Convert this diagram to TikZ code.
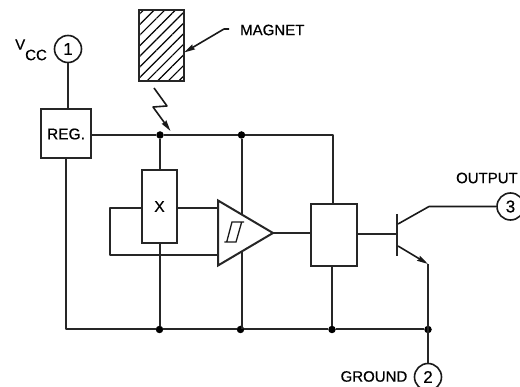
\documentclass[tikz,border=0pt]{standalone}
\usepackage{fontspec}
\setmainfont[FakeBold=0.6]{Liberation Sans}
\usetikzlibrary{arrows.meta,patterns.meta}
\tikzset{
  wire/.style={line width=2pt,line join=round,black!85},
  blockbox/.style={draw=black!85,line width=2pt,fill=white,inner sep=0pt,minimum width=0pt},
  pin/.style={circle,draw=black!90,line width=1.6pt,fill=white,minimum size=27pt,inner sep=0pt,font=\fontsize{17}{17}\selectfont},
  junction/.style={circle,fill=black,inner sep=0pt,minimum size=7.5pt},
  lbl/.style={inner sep=0pt,font=\fontsize{15}{15}\selectfont},
  tip/.style={-{Stealth[length=11pt,width=5.5pt,inset=1pt]}},
  thinwire/.style={line width=1.6pt,line join=round,black!90}
}
\begin{document}
\begin{tikzpicture}[x=1pt,y=-1pt]
\useasboundingbox (0,0) rectangle (520,387);
% blocks
\node[pin] (p1) at (68,49) {1};
\node[pin] (p2) at (428,377) {2};
\node[pin] (p3) at (510.5,206.5) {3};
\node[blockbox,minimum width=50pt,minimum height=49pt,font=\fontsize{15.5}{15}\selectfont] (reg) at (66,134) {REG.};
\node[blockbox,minimum width=35pt,minimum height=73pt,font=\fontsize{15.5}{15}\selectfont] (hall) at (159.5,206.5) {X};
\node[blockbox,minimum width=46.5pt,minimum height=62pt] (logic) at (334,235) {};
\node[draw=black!85,line width=2pt,minimum width=45pt,minimum height=71pt,inner sep=0pt,pattern={Lines[angle=45,distance=7.5pt,line width=1.2pt]}] (magnet) at (161,45.5) {};
% junctions
\node[junction] (t1) at (160,135) {};
\node[junction] (t2) at (241.5,135) {};
\node[junction] (b1) at (159.5,329.5) {};
\node[junction] (b2) at (240.5,329.5) {};
\node[junction] (b3) at (332,329.5) {};
\node[junction] (b4) at (428,329.5) {};
% helper points
\coordinate (tr) at (333,135);
\coordinate (bl) at (66,329.5);
\coordinate (hl) at (142,208.5);
\coordinate (hr) at (177,208.5);
\coordinate (lt) at (110,208.5);
\coordinate (lb) at (110,255.5);
\coordinate (ca) at (218,208.5);
\coordinate (cb) at (218,255.5);
\coordinate (co) at (273,233);
\coordinate (qb) at (397,234);
\coordinate (qc) at (398,224);
\coordinate (qk) at (429,206.5);
\coordinate (qe) at (398,246);
\coordinate (qj) at (428,264);
% wires
\draw[wire] (p1) -- (p1 |- reg.north);
\draw[wire] (reg.east |- t1) -- (t1) -- (t2) -- (tr) -- (logic.north -| tr);
\draw[wire] (t1) -- (t1 |- hall.north);
\draw[wire] (reg.south) -- (bl) -- (b1) -- (b2) -- (b3) -- (b4);
\draw[wire] (b1) -- (b1 |- hall.south);
\draw[wire] (hl) -- (lt) -- (lb) -- (cb);
\draw[wire] (hr) -- (ca);
\draw[wire] (t2) -- (t2 |- b2);
\draw[wire] (b3) -- (b3 |- logic.south);
\draw[blockbox] (218,200.5) -- (co) -- (218,265.5) -- cycle;
\draw[line width=1.3pt,black!90] (244,222) -- (232,222) -- (226.7,242) (224.3,242) -- (236,242) -- (241.7,222);
\draw[wire] (co) -- (logic.west |- co);
\draw[wire] (logic.east |- qb) -- (qb);
\draw[wire] (397,214) -- (397,256);
\draw[thinwire] (qc) -- (qk) -- (p3);
\draw[thinwire,tip] (qe) -- (qj);
\draw[wire] (qj) -- (qj |- b4) -- (p2);
% magnet leader and flux
\coordinate (ml) at (229,29);
\coordinate (mk) at (224,29);
\draw[thinwire,tip] (ml) -- (mk) -- (magnet.east |- 0,52.5);
\coordinate (f1) at (154,88);
\coordinate (f2) at (167,106);
\coordinate (f3) at (153,107);
\coordinate (f4) at (170.5,131);
\draw[thinwire,tip] (f1) -- (f2) -- (f3) -- (f4);
% labels
\node[lbl,anchor=west] (magtxt) at (240,30) {MAGNET};
\node[lbl,anchor=west] (vcc) at (15,44.5) {V};
\node[lbl,anchor=west] (cc) at (25,55) {CC};
\node[lbl,anchor=east] (gnd) at (407.5,376.5) {GROUND};
\node[lbl,anchor=east] (out) at (518,178) {OUTPUT};
\end{tikzpicture}
\end{document}
